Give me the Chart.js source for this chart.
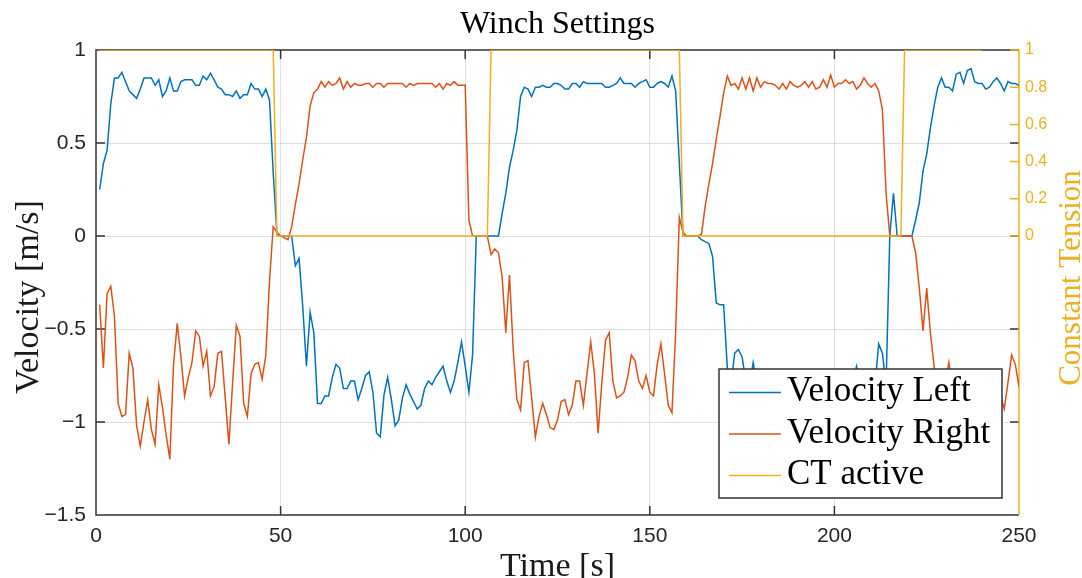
<!DOCTYPE html>
<html>
<head>
<meta charset="utf-8">
<title>Winch Settings</title>
<script src="https://cdn.jsdelivr.net/npm/chart.js@4.4.1/dist/chart.umd.min.js"></script>
<style>
  html, body { margin: 0; padding: 0; background: #fff; }
  #wrap { width: 1082px; height: 578px; }
</style>
</head>
<body>
<div id="wrap"><canvas id="chart-winch" width="1082" height="578"></canvas></div>
<script>
// ===== WINCH SETTINGS =====
// one sample per second, t = 1 .. 250 s

// left winch velocity [m/s]
const velLeft = [
  0.25, 0.39, 0.46, 0.71, 0.85, 0.85, 0.88, 0.83, 0.78, 0.76,
  0.74, 0.79, 0.85, 0.85, 0.85, 0.81, 0.84, 0.75, 0.78, 0.85,
  0.78, 0.78, 0.83, 0.84, 0.84, 0.84, 0.81, 0.81, 0.86, 0.84,
  0.875, 0.84, 0.80, 0.79, 0.76, 0.76, 0.75, 0.78, 0.74, 0.76,
  0.76, 0.82, 0.79, 0.79, 0.75, 0.79, 0.73, 0.34, 0.01, 0,
  0, 0, 0, -0.16, -0.12, -0.38, -0.70, -0.41, -0.52, -0.90,
  -0.90, -0.86, -0.86, -0.76, -0.69, -0.71, -0.82, -0.82, -0.78, -0.78,
  -0.88, -0.82, -0.75, -0.73, -0.84, -1.06, -1.08, -0.855, -0.76, -0.88,
  -1.02, -0.99, -0.87, -0.80, -0.85, -0.89, -0.93, -0.91, -0.82, -0.78,
  -0.80, -0.76, -0.73, -0.70, -0.78, -0.84, -0.78, -0.68, -0.57, -0.70,
  -0.84, -0.64, 0, 0, 0, 0, 0, 0, 0, 0.12,
  0.23, 0.37, 0.46, 0.57, 0.75, 0.80, 0.79, 0.75, 0.80, 0.80,
  0.81, 0.80, 0.80, 0.82, 0.82, 0.81, 0.79, 0.79, 0.82, 0.82,
  0.80, 0.83, 0.82, 0.82, 0.82, 0.82, 0.82, 0.80, 0.80, 0.81,
  0.82, 0.85, 0.82, 0.82, 0.82, 0.80, 0.82, 0.83, 0.84, 0.80,
  0.80, 0.82, 0.83, 0.82, 0.80, 0.86, 0.78, 0.39, 0, 0,
  0, 0, 0, -0.02, -0.03, -0.04, -0.11, -0.36, -0.37, -0.37,
  -0.71, -0.80, -0.63, -0.61, -0.65, -0.78, -0.80, -0.68, -0.80, -0.88,
  -0.76, -0.95, -0.85, -0.78, -0.90, -1.00, -0.86, -0.80, -0.92, -0.84,
  -0.76, -0.88, -0.95, -0.82, -0.79, -0.90, -0.85, -0.77, -0.86, -0.93,
  -0.80, -0.75, -0.84, -0.88, -0.78, -0.70, -0.80, -0.85, -0.78, -0.82,
  -0.80, -0.58, -0.63, -0.80, 0, 0.23, 0, 0, 0, 0,
  0, 0.086, 0.18, 0.35, 0.44, 0.58, 0.70, 0.80, 0.85, 0.80,
  0.80, 0.78, 0.87, 0.88, 0.82, 0.89, 0.90, 0.83, 0.82, 0.82,
  0.79, 0.80, 0.83, 0.85, 0.82, 0.78, 0.83, 0.82, 0.82, 0.81
];

// right winch velocity [m/s]
const velRight = [
  -0.37, -0.71, -0.31, -0.27, -0.43, -0.90, -0.97, -0.96, -0.63, -0.71,
  -1.02, -1.13, -1.00, -0.88, -1.04, -1.12, -0.80, -0.92, -1.07, -1.20,
  -0.69, -0.47, -0.65, -0.86, -0.76, -0.68, -0.51, -0.54, -0.70, -0.62,
  -0.86, -0.81, -0.63, -0.62, -0.87, -1.12, -0.79, -0.48, -0.54, -0.90,
  -0.97, -0.74, -0.69, -0.68, -0.77, -0.64, -0.24, 0.05, 0.02, 0.00,
  -0.01, -0.02, 0.05, 0.17, 0.28, 0.41, 0.53, 0.70, 0.77, 0.79,
  0.83, 0.80, 0.83, 0.81, 0.82, 0.85, 0.79, 0.83, 0.80, 0.82,
  0.81, 0.81, 0.82, 0.82, 0.80, 0.82, 0.82, 0.80, 0.82, 0.82,
  0.82, 0.82, 0.82, 0.80, 0.82, 0.81, 0.82, 0.82, 0.82, 0.82,
  0.82, 0.80, 0.82, 0.79, 0.82, 0.81, 0.83, 0.81, 0.81, 0.81,
  0.086, 0, 0, 0, 0, 0, -0.10, -0.07, -0.09, -0.22,
  -0.52, -0.21, -0.61, -0.88, -0.935, -0.68, -0.67, -0.87, -1.08, -0.97,
  -0.90, -0.96, -1.03, -1.04, -0.99, -0.89, -0.88, -0.96, -0.91, -0.78,
  -0.78, -0.91, -0.74, -0.57, -0.74, -1.06, -0.79, -0.56, -0.52, -0.78,
  -0.87, -0.86, -0.84, -0.76, -0.64, -0.67, -0.78, -0.82, -0.75, -0.84,
  -0.86, -0.69, -0.58, -0.74, -0.91, -0.95, -0.52, 0.10, 0.02, 0,
  0, 0, 0, 0.01, 0.16, 0.28, 0.39, 0.52, 0.64, 0.77,
  0.86, 0.81, 0.82, 0.79, 0.85, 0.79, 0.85, 0.78, 0.85, 0.80,
  0.83, 0.82, 0.82, 0.81, 0.79, 0.82, 0.79, 0.83, 0.81, 0.80,
  0.81, 0.83, 0.80, 0.83, 0.79, 0.80, 0.84, 0.80, 0.865, 0.80,
  0.82, 0.82, 0.84, 0.82, 0.83, 0.79, 0.81, 0.85, 0.82, 0.80,
  0.82, 0.78, 0.68, 0.23, 0, 0, 0, 0, 0, 0,
  0, -0.09, -0.28, -0.51, -0.28, -0.52, -0.70, -0.85, -0.95, -0.80,
  -0.68, -0.82, -0.93, -1.00, -0.86, -0.78, -0.90, -0.97, -0.84, -0.80,
  -0.88, -0.95, -0.82, -0.78, -0.86, -0.93, -0.79, -0.64, -0.69, -0.81
];

// constant tension mode flag (right axis)
const ctActive = [
  1, 1, 1, 1, 1, 1, 1, 1, 1, 1,  1, 1, 1, 1, 1, 1, 1, 1, 1, 1,
  1, 1, 1, 1, 1, 1, 1, 1, 1, 1,  1, 1, 1, 1, 1, 1, 1, 1, 1, 1,
  1, 1, 1, 1, 1, 1, 1, 1, 0, 0,  0, 0, 0, 0, 0, 0, 0, 0, 0, 0,
  0, 0, 0, 0, 0, 0, 0, 0, 0, 0,  0, 0, 0, 0, 0, 0, 0, 0, 0, 0,
  0, 0, 0, 0, 0, 0, 0, 0, 0, 0,  0, 0, 0, 0, 0, 0, 0, 0, 0, 0,
  0, 0, 0, 0, 0, 0, 1, 1, 1, 1,  1, 1, 1, 1, 1, 1, 1, 1, 1, 1,
  1, 1, 1, 1, 1, 1, 1, 1, 1, 1,  1, 1, 1, 1, 1, 1, 1, 1, 1, 1,
  1, 1, 1, 1, 1, 1, 1, 1, 1, 1,  1, 1, 1, 1, 1, 1, 1, 1, 0, 0,
  0, 0, 0, 0, 0, 0, 0, 0, 0, 0,  0, 0, 0, 0, 0, 0, 0, 0, 0, 0,
  0, 0, 0, 0, 0, 0, 0, 0, 0, 0,  0, 0, 0, 0, 0, 0, 0, 0, 0, 0,
  0, 0, 0, 0, 0, 0, 0, 0, 0, 0,  0, 0, 0, 0, 0, 0, 0, 0, 1, 1,
  1, 1, 1, 1, 1, 1, 1, 1, 1, 1,  1, 1, 1, 1, 1, 1, 1, 1, 1, 1
];

const seriesNames = ['Velocity Left', 'Velocity Right', 'CT active'];
const timeTicks = [0, 50, 100, 150, 200, 250];
const velocityTicks = [-1.5, -1, -0.5, 0, 0.5, 1];
const tensionTicks = [0, 0.2, 0.4, 0.6, 0.8, 1];

const COLORS = {
  left: '#0072BD',
  right: '#D95319',
  ct: '#EDB120',
  axis: '#333333',
  grid: 'rgba(38,38,38,0.14)'
};
const SERIF = '"Liberation Serif", "Times New Roman", serif';
const SANS = '"Liberation Sans", Arial, sans-serif';
const TICK_LEN = 9;

const sampleTime = velLeft.map((_, i) => i + 1);
const toPoints = vals => vals.map((v, i) => ({ x: sampleTime[i], y: v }));
const fixTicks = list => scale => { scale.ticks = list.map(v => ({ value: v })); };
const innerGrid = (lo, hi) => ctx => (ctx.tick && ctx.tick.value > lo && ctx.tick.value < hi) ? COLORS.grid : 'rgba(0,0,0,0)';
// tick labels use a real minus sign
const fmtTick = v => String(v).replace('-', '\u2212');

// box around the plot area with inward tick marks on all four sides
const axesBox = {
  id: 'axesBox',
  beforeDatasetsDraw(chart) {
    const { ctx, chartArea: a, scales } = chart;
    ctx.save();
    ctx.lineWidth = 1.5;
    ctx.strokeStyle = COLORS.axis;
    ctx.beginPath();
    ctx.moveTo(a.right, a.top);
    ctx.lineTo(a.left, a.top);
    ctx.lineTo(a.left, a.bottom);
    ctx.lineTo(a.right, a.bottom);
    timeTicks.slice(1, -1).forEach(v => {
      const x = scales.x.getPixelForValue(v);
      ctx.moveTo(x, a.bottom); ctx.lineTo(x, a.bottom - TICK_LEN);
      ctx.moveTo(x, a.top); ctx.lineTo(x, a.top + TICK_LEN);
    });
    velocityTicks.slice(1, -1).forEach(v => {
      const y = scales.y.getPixelForValue(v);
      ctx.moveTo(a.left, y); ctx.lineTo(a.left + TICK_LEN, y);
      ctx.moveTo(a.right, y); ctx.lineTo(a.right - TICK_LEN, y);
    });
    ctx.stroke();

    // right axis belongs to the CT series
    ctx.strokeStyle = COLORS.ct;
    ctx.beginPath();
    ctx.moveTo(a.right, a.top);
    ctx.lineTo(a.right, a.bottom);
    tensionTicks.forEach(v => {
      const y = scales.y2.getPixelForValue(v);
      ctx.moveTo(a.right, y); ctx.lineTo(a.right - TICK_LEN, y);
    });
    ctx.stroke();
    ctx.restore();
  }
};

// boxed legend inside the lower right of the plot
const boxLegend = {
  id: 'boxLegend',
  afterDatasetsDraw(chart) {
    const { ctx } = chart;
    const box = { x: 719, y: 369, w: 283, h: 129 };
    ctx.save();
    ctx.fillStyle = '#fff';
    ctx.fillRect(box.x, box.y, box.w, box.h);
    ctx.strokeStyle = COLORS.axis;
    ctx.lineWidth = 1.5;
    ctx.strokeRect(box.x, box.y, box.w, box.h);
    ctx.font = `35px ${SERIF}`;
    ctx.textAlign = 'left';
    ctx.textBaseline = 'alphabetic';
    chart.data.datasets.forEach((ds, i) => {
      const base = 401 + i * 41.5;
      ctx.strokeStyle = ds.borderColor;
      ctx.lineWidth = 1.5;
      ctx.beginPath();
      ctx.moveTo(729, base - 8.5);
      ctx.lineTo(781, base - 8.5);
      ctx.stroke();
      ctx.fillStyle = '#000';
      ctx.fillText(ds.label, 787, base);
    });
    ctx.restore();
  }
};

// title and axis labels
const axisText = {
  id: 'axisText',
  afterDraw(chart) {
    const { ctx, chartArea: a } = chart;
    const midX = (a.left + a.right) / 2;
    ctx.save();
    ctx.textAlign = 'center';
    ctx.textBaseline = 'alphabetic';
    ctx.fillStyle = '#000';
    ctx.font = `32px ${SERIF}`;
    ctx.fillText('Winch Settings', midX, 33);

    ctx.fillStyle = '#1a1a1a';
    ctx.font = `34px ${SERIF}`;
    ctx.fillText('Time [s]', midX, 576);

    ctx.save();
    ctx.translate(38, 297);
    ctx.rotate(-Math.PI / 2);
    ctx.fillText('Velocity [m/s]', 0, 0);
    ctx.restore();

    ctx.fillStyle = COLORS.ct;
    ctx.font = `31px ${SERIF}`;
    ctx.translate(1080, 278);
    ctx.rotate(-Math.PI / 2);
    ctx.fillText('Constant Tension', 0, 0);
    ctx.restore();
  }
};

const lineSet = (i, vals, color, axis, order) => ({
  label: seriesNames[i],
  data: toPoints(vals),
  borderColor: color,
  backgroundColor: color,
  borderWidth: 1.5,
  pointRadius: 0,
  tension: 0,
  fill: false,
  yAxisID: axis,
  order
});

new Chart(document.getElementById('chart-winch'), {
  type: 'line',
  data: {
    datasets: [
      lineSet(0, velLeft, COLORS.left, 'y', 2),
      lineSet(1, velRight, COLORS.right, 'y', 1),
      lineSet(2, ctActive, COLORS.ct, 'y2', 0)
    ]
  },
  options: {
    responsive: false,
    animation: false,
    events: [],
    layout: { padding: { top: 50, left: 0, right: 0, bottom: 0 } },
    plugins: {
      legend: { display: false },
      title: { display: false },
      tooltip: { enabled: false }
    },
    scales: {
      x: {
        type: 'linear',
        min: 0, max: 250,
        afterBuildTicks: fixTicks(timeTicks),
        afterFit: s => { s.height = 63; },
        grid: { color: innerGrid(0, 250), drawTicks: false },
        border: { display: false },
        ticks: { color: '#262626', font: { family: SANS, size: 21 }, padding: 9, maxRotation: 0, autoSkip: false }
      },
      y: {
        position: 'left',
        min: -1.5, max: 1,
        afterBuildTicks: fixTicks(velocityTicks),
        afterFit: s => { s.width = 96; },
        grid: { color: innerGrid(-1.5, 1), drawTicks: false },
        border: { display: false },
        ticks: { color: '#262626', font: { family: SANS, size: 21 }, padding: 10, callback: fmtTick }
      },
      y2: {
        position: 'right',
        min: -1.5, max: 1,
        afterBuildTicks: fixTicks(tensionTicks),
        afterFit: s => { s.width = 63; },
        grid: { drawOnChartArea: false, drawTicks: false },
        border: { display: false },
        ticks: { color: COLORS.ct, font: { family: SANS, size: 16 }, padding: 6, callback: fmtTick }
      }
    }
  },
  plugins: [axesBox, boxLegend, axisText]
});
</script>
</body>
</html>
